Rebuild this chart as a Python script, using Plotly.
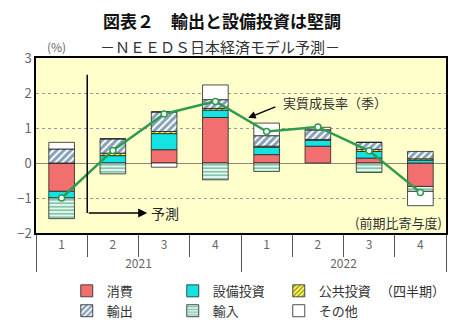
import plotly.graph_objects as go

# ---- data ----
years = ["2021"] * 4 + ["2022"] * 4
quarters = ["1", "2", "3", "4", "1", "2", "3", "4"]
consumption = [-0.81, 0.00, 0.38, 1.30, 0.24, 0.48, 0.14, -0.67]
capex = [-0.19, 0.21, 0.46, 0.21, 0.21, 0.17, 0.19, 0.08]
public = [0.00, 0.07, 0.06, 0.05, 0.03, 0.02, 0.06, 0.04]
exports = [0.40, 0.41, 0.56, 0.25, 0.30, 0.28, 0.20, 0.21]
imports = [-0.59, -0.31, 0.00, -0.48, -0.24, 0.00, -0.27, -0.14]
other = [0.19, 0.00, -0.12, 0.42, 0.36, 0.07, 0.00, -0.41]
gdp = [-1.00, 0.36, 1.40, 1.76, 0.90, 1.03, 0.35, -0.84]

series_names = ["消費", "設備投資", "公共投資", "輸出", "輸入", "その他"]
y_ticks = [3, 2, 1, 0, -1, -2]

x = [years, quarters]
FONT = "Noto Sans CJK JP"
GRAY = "#666666"

fig = go.Figure()

def add_bar(vals, name, color, pattern=None):
    marker = dict(color=color, line=dict(color="#222222", width=0.8))
    if pattern:
        marker["pattern"] = pattern
    fig.add_trace(go.Bar(x=x, y=vals, name=name, marker=marker))

add_bar(consumption, series_names[0], "#F26F6F")
add_bar(capex, series_names[1], "#14E3E3")
add_bar(public, series_names[2], "#FFFF55",
        dict(shape="/", fgcolor="#111111", bgcolor="#FFFF55", size=4, solidity=0.4))
add_bar(exports, series_names[3], "#FFFFFF",
        dict(shape="/", fgcolor="#0E4470", bgcolor="#FFFFFF", size=5, solidity=0.6))
add_bar(imports, series_names[4], "#FFFFFF",
        dict(shape="-", fgcolor="#1F8A64", bgcolor="#F0FFF6", size=3.5, solidity=0.55))
add_bar(other, series_names[5], "#FFFFFF")

fig.add_trace(go.Scatter(
    x=x, y=gdp, mode="lines+markers", showlegend=False,
    line=dict(color="#2F9A50", width=2.5),
    marker=dict(color="white", size=6, line=dict(color="#2F9A50", width=1.5)),
))

forecast_x = 0.5
forecast_top = 2.52
forecast_bottom = -1.43
forecast_end = 1.67

fig.add_shape(type="line", xref="x", yref="y", x0=forecast_x, x1=forecast_x,
              y0=forecast_top, y1=forecast_bottom, line=dict(color="black", width=1.5))

def px_x(p):
    return (p - 36) / 410

def px_y(p):
    return (233 - p) / 175

annotations = [
    dict(x=forecast_end, y=forecast_bottom, ax=forecast_x, ay=forecast_bottom,
         xref="x", yref="y", axref="x", ayref="y", text="", showarrow=True,
         arrowhead=2, arrowsize=1.2, arrowwidth=1.5, arrowcolor="black"),
    dict(x=forecast_end + 0.03, y=forecast_bottom, xref="x", yref="y", text="予測",
         showarrow=False, xanchor="left", yanchor="middle", font=dict(size=14, color="#222")),
    dict(x=3.64, y=1.29, ax=4.20, ay=1.62, xref="x", yref="y", axref="x", ayref="y",
         text="", showarrow=True, arrowhead=2, arrowsize=1, arrowwidth=1.5, arrowcolor="black"),
    dict(x=4.28, y=1.72, xref="x", yref="y", text="実質成長率（季）", showarrow=False,
         xanchor="left", yanchor="middle", font=dict(size=13, color="#333")),
    dict(x=0.995, y=-1.71, xref="paper", yref="y", text="(前期比寄与度)", showarrow=False,
         xanchor="right", yanchor="middle", font=dict(size=13, color="#333")),
    dict(x=px_x(222), y=px_y(20), xref="paper", yref="paper",
         text="<b>図表２　輸出と設備投資は堅調</b>", showarrow=False,
         xanchor="center", yanchor="middle", font=dict(size=17, color="#111")),
    dict(x=px_x(220), y=px_y(46), xref="paper", yref="paper",
         text="－ＮＥＥＤＳ日本経済モデル予測－", showarrow=False,
         xanchor="center", yanchor="middle", font=dict(size=15, color="#333")),
    dict(x=px_x(56), y=px_y(46), xref="paper", yref="paper", text="(%)",
         showarrow=False, xanchor="center", yanchor="middle", font=dict(size=12, color=GRAY)),
    dict(x=px_x(412), y=px_y(290), xref="paper", yref="paper", text="（四半期）",
         showarrow=False, xanchor="center", yanchor="middle", font=dict(size=13, color="#333")),
]

fig.update_layout(
    width=462, height=325,
    margin=dict(l=36, r=16, t=58, b=92, autoexpand=False),
    paper_bgcolor="white", plot_bgcolor="#FFFFCC",
    barmode="relative", bargap=0.5,
    font=dict(family=FONT, size=12, color=GRAY),
    annotations=annotations,
    showlegend=True,
    legend=dict(orientation="h", x=0.075, xanchor="left", y=-0.245, yanchor="top",
                entrywidth=61, entrywidthmode="pixels", itemwidth=30,
                font=dict(size=13, color="#333"), bgcolor="rgba(0,0,0,0)",
                tracegroupgap=0, traceorder="normal"),
)
fig.update_xaxes(type="multicategory", showline=True, linecolor="black", linewidth=1.5,
                 mirror=True, ticks="outside", ticklen=22, tickcolor="#555",
                 showdividers=True, dividercolor="#555", dividerwidth=1,
                 tickfont=dict(size=12, color=GRAY), showgrid=False)
fig.update_yaxes(range=[-2, 3], tickvals=y_ticks, showline=True, linecolor="black",
                 linewidth=1.5, mirror=True, showgrid=True, gridcolor="#999999",
                 griddash="dot", gridwidth=1, zeroline=True, zerolinecolor="#888888",
                 zerolinewidth=1, tickfont=dict(size=13, color=GRAY), ticks="")

fig.write_html("out.html")
